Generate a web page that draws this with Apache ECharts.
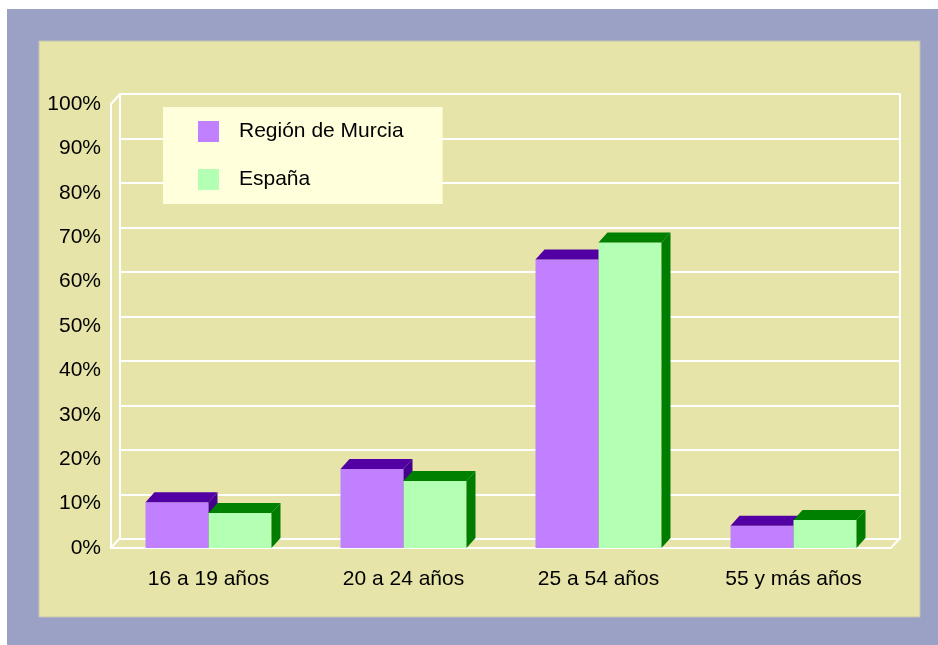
<!DOCTYPE html>
<html>
<head>
<meta charset="utf-8">
<script src="https://cdn.jsdelivr.net/npm/echarts@6/dist/echarts.min.js"></script>
<style>
html, body { margin: 0; padding: 0; background: #ffffff; }
#chart { width: 938px; height: 645px; }
</style>
</head>
<body>
<div id="chart"></div>
<script>
var categories = ['16 a 19 años', '20 a 24 años', '25 a 54 años', '55 y más años'];
var murcia = [10.3, 17.8, 65.0, 5.0];
var espana = [7.9, 15.1, 68.8, 6.3];
var yTicks = [0, 10, 20, 30, 40, 50, 60, 70, 80, 90, 100];

var DX = 9, DY = -10;
var FONT = '"Liberation Sans", Arial, sans-serif';

var chart = echarts.init(document.getElementById('chart'));

// one 3d box per category, side = -1 left bar, +1 right bar
function boxRenderer(side, front, top, dark) {
  return function (params, api) {
    var cat = api.value(0);
    var val = api.value(1);
    var ptTop = api.coord([cat, val]);
    var ptBot = api.coord([cat, 0]);
    var w = api.size([1, 0])[0] * 0.323;
    var x0 = side < 0 ? ptTop[0] - w : ptTop[0];
    var x1 = x0 + w;
    var yt = ptTop[1], yb = ptBot[1];
    return {
      type: 'group',
      children: [
        { type: 'rect', shape: { x: x0, y: yt, width: w, height: yb - yt }, style: { fill: front } },
        { type: 'polygon', shape: { points: [[x0, yt], [x1, yt], [x1 + DX, yt + DY], [x0 + DX, yt + DY]] }, style: { fill: top } },
        { type: 'polygon', shape: { points: [[x1, yt], [x1 + DX, yt + DY], [x1 + DX, yb + DY], [x1, yb]] }, style: { fill: dark } }
      ]
    };
  };
}

// the slanted edges joining the front axes with the back wall
function frameRenderer(params, api) {
  var half = api.size([1, 0])[0] / 2;
  var a = api.coord([0, 0]);
  var b = api.coord([categories.length - 1, 0]);
  var t = api.coord([0, 100]);
  var xl = a[0] - half, xr = b[0] + half, yb = a[1], yt = t[1];
  var st = { stroke: '#ffffff', lineWidth: 2 };
  return {
    type: 'group',
    children: [
      { type: 'line', shape: { x1: xl, y1: yt, x2: xl + DX, y2: yt + DY }, style: st },
      { type: 'line', shape: { x1: xl, y1: yb, x2: xl + DX, y2: yb + DY }, style: st },
      { type: 'line', shape: { x1: xr, y1: yb, x2: xr + DX, y2: yb + DY }, style: st }
    ]
  };
}

var option = {
  backgroundColor: '#ffffff',
  animation: false,
  graphic: [
    { type: 'rect', z: -10, shape: { x: 7, y: 9, width: 931, height: 636 }, style: { fill: '#9ba1c4' } },
    { type: 'rect', z: -9, shape: { x: 39, y: 41, width: 881, height: 576 }, style: { fill: '#e6e4a8', stroke: '#c4c4b4', lineWidth: 1 } }
  ],
  legend: {
    orient: 'vertical',
    left: 163,
    top: 107,
    backgroundColor: '#ffffdc',
    padding: [14, 39, 14, 35],
    itemWidth: 21,
    itemHeight: 21,
    itemGap: 27,
    icon: 'rect',
    data: ['Región de Murcia', 'España'],
    textStyle: { fontFamily: FONT, fontSize: 21, color: '#000000', lineHeight: 21, padding: [0, 0, 0, 15] }
  },
  grid: [
    { left: 111, top: 104, width: 780, height: 444 },
    { left: 120, top: 94, width: 780, height: 445 }
  ],
  xAxis: [
    {
      type: 'category', gridIndex: 0, data: categories,
      axisLine: { lineStyle: { color: '#ffffff', width: 2 } },
      axisTick: { show: false },
      axisLabel: { fontFamily: FONT, fontSize: 21, color: '#000000', margin: 21 }
    },
    {
      type: 'category', gridIndex: 1, data: categories,
      axisLine: { show: false }, axisTick: { show: false }, axisLabel: { show: false }
    }
  ],
  yAxis: [
    {
      type: 'value', gridIndex: 0, min: 0, max: 100, interval: 10,
      axisLine: { show: true, lineStyle: { color: '#ffffff', width: 2 } },
      axisTick: { show: false },
      splitLine: { show: false },
      axisLabel: { fontFamily: FONT, fontSize: 21, color: '#000000', margin: 10, formatter: '{value}%' }
    },
    {
      type: 'value', gridIndex: 1, min: 0, max: 100, interval: 10,
      axisLine: { show: true, lineStyle: { color: '#ffffff', width: 2 } },
      axisTick: { show: false },
      axisLabel: { show: false },
      splitLine: { show: true, lineStyle: { color: '#ffffff', width: 2 } }
    },
    {
      type: 'value', gridIndex: 1, position: 'right', min: 0, max: 100, interval: 10,
      axisLine: { show: true, lineStyle: { color: '#ffffff', width: 2 } },
      axisTick: { show: false },
      axisLabel: { show: false },
      splitLine: { show: false }
    }
  ],
  series: [
    {
      type: 'custom', name: 'frame', xAxisIndex: 0, yAxisIndex: 0, z: 1,
      renderItem: frameRenderer, data: [[0, 0]], silent: true
    },
    {
      type: 'custom', name: 'Región de Murcia', xAxisIndex: 0, yAxisIndex: 0, z: 3,
      itemStyle: { color: '#c080ff' },
      renderItem: boxRenderer(-1, '#c080ff', '#5200a4', '#44008c'),
      data: murcia.map(function (v, i) { return [i, v]; })
    },
    {
      type: 'custom', name: 'España', xAxisIndex: 0, yAxisIndex: 0, z: 4,
      itemStyle: { color: '#b3ffb3' },
      renderItem: boxRenderer(1, '#b3ffb3', '#008000', '#007c00'),
      data: espana.map(function (v, i) { return [i, v]; })
    }
  ]
};

chart.setOption(option);
</script>
</body>
</html>
